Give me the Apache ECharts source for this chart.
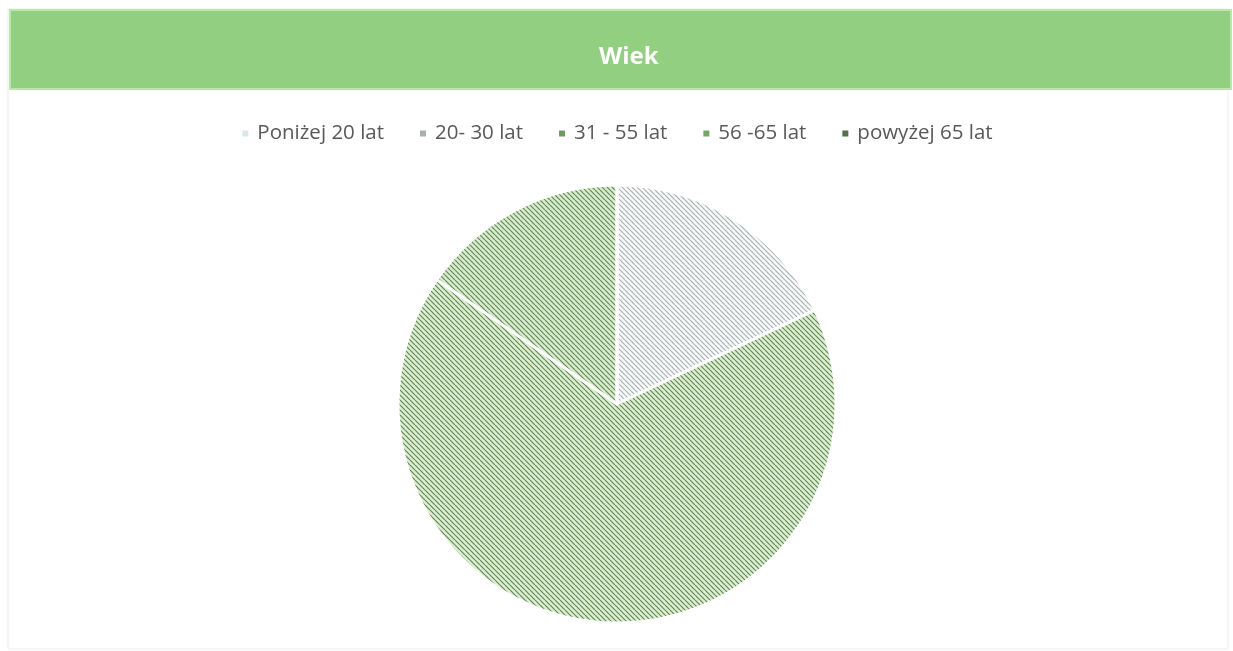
<!DOCTYPE html>
<html>
<head>
<meta charset="utf-8">
<script src="https://cdn.jsdelivr.net/npm/echarts@6/dist/echarts.min.js"></script>
<style>
  html, body { margin: 0; padding: 0; background: #fff; }
  #myChart { width: 1233px; height: 651px; }
</style>
</head>
<body>
<div id="myChart"></div>
<script>
  // dane
  var categories = ['Poniżej 20 lat', '20- 30 lat', '31 - 55 lat', '56 -65 lat', 'powyżej 65 lat']
  var values = [0, 7, 26, 6, 0]
  var chartTitle = 'Wiek'

  // kolory: tło kreskowania, kreski, znacznik legendy
  var hatchBg = ['#f2f8fa', '#f8fafa', '#d8f3ca', '#d4f0c6', '#c6e6b8']
  var hatchFg = ['#c4d2d6', '#aab0b2', '#6c7c66', '#6f7e69', '#586854']
  var legendColors = ['#d9e8ee', '#a9b0b1', '#6f9a62', '#79a46a', '#56704e']

  function makeHatch(bg, fg) {
    var c = document.createElement('canvas')
    var s = 5
    c.width = s
    c.height = s
    var ctx = c.getContext('2d')
    ctx.fillStyle = bg
    ctx.fillRect(0, 0, s, s)
    ctx.strokeStyle = fg
    ctx.lineWidth = 1.15
    // kreski "\" powtarzane
    for (var k = -1; k <= 1; k++) {
      ctx.beginPath()
      ctx.moveTo(k * s, 0)
      ctx.lineTo(k * s + s, s)
      ctx.stroke()
    }
    return c
  }

  var pieData = categories.map(function (name, i) {
    return {
      name: name,
      value: values[i],
      itemStyle: { color: { image: makeHatch(hatchBg[i], hatchFg[i]), repeat: 'repeat' } }
    }
  })

  var legendData = categories.map(function (name, i) {
    return { name: name, itemStyle: { color: legendColors[i] } }
  })

  var myChart = echarts.init(document.getElementById('myChart'))
  var option = {
    backgroundColor: '#fff',
    animation: false,
    graphic: [{
      type: 'rect',
      shape: { x: 10, y: 10, width: 1221, height: 79 },
      style: { fill: '#93cf80', stroke: '#bde5ae', lineWidth: 2 },
      z: -1
    }, {
      type: 'rect',
      shape: { x: 8, y: 9, width: 1220, height: 640 },
      style: { fill: 'none', stroke: '#ececec', lineWidth: 1 },
      z: -2
    }],
    title: {
      text: chartTitle,
      left: 594,
      top: 40,
      textStyle: {
        color: '#ffffff',
        fontFamily: 'Open Sans',
        fontWeight: 'bold',
        fontSize: 24
      }
    },
    legend: {
      data: legendData,
      top: 118,
      left: 'center',
      icon: 'rect',
      itemWidth: 8,
      itemHeight: 8,
      itemGap: 34,
      textStyle: {
        color: '#595959',
        fontFamily: 'Open Sans',
        fontSize: 20.5,
        padding: [0, 0, 0, 3]
      }
    },
    series: [{
      name: chartTitle,
      type: 'pie',
      center: [617, 404],
      radius: 219,
      startAngle: 90,
      clockwise: true,
      label: { show: false },
      labelLine: { show: false },
      emphasis: { disabled: true },
      itemStyle: { borderColor: '#ffffff', borderWidth: 3 },
      data: pieData
    }]
  }

  myChart.setOption(option)
</script>
</body>
</html>
